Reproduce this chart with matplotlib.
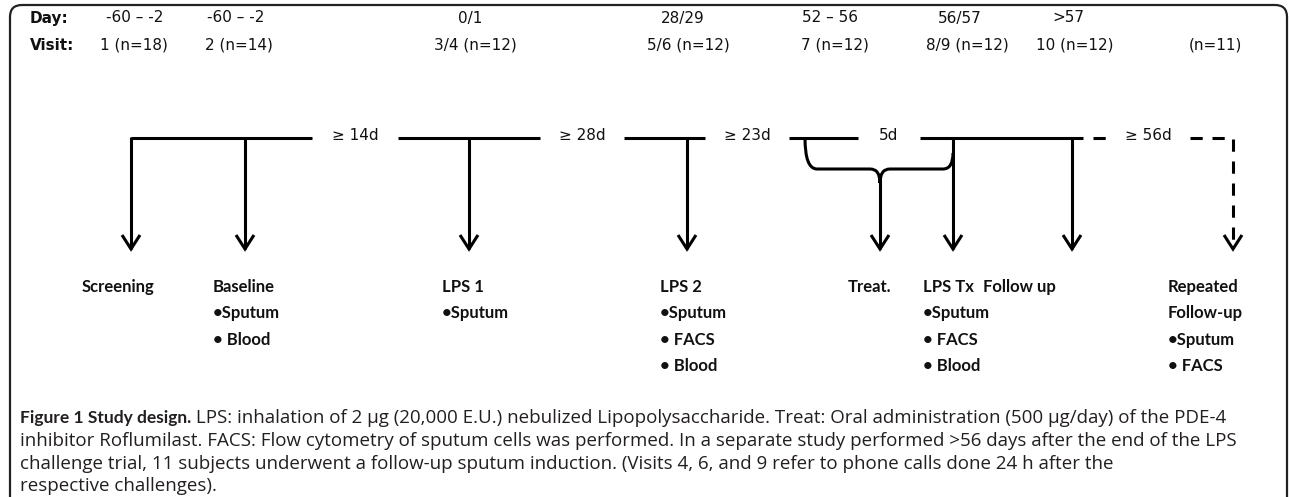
import matplotlib
matplotlib.use("Agg")
import matplotlib.pyplot as plt
from matplotlib.patches import FancyBboxPatch, PathPatch
from matplotlib.path import Path

# header rows
day_x = [135, 236, 470, 683, 830, 960, 1068]
day_labels = ["-60 – -2", "-60 – -2", "0/1", "28/29", "52 – 56", "56/57", ">57"]
visit_x = [134, 239, 475, 688, 835, 967, 1075, 1215]
visit_labels = ["1 (n=18)", "2 (n=14)", "3/4 (n=12)", "5/6 (n=12)", "7 (n=12)",
                "8/9 (n=12)", "10 (n=12)", "(n=11)"]

# timeline
arrow_x = [131, 245, 469, 687, 953, 1072]   # solid arrows dropping from the line
treat_x = 880                                # arrow from the brace tip
repeat_x = 1233                              # dashed arrow
line_y = 138
tip_y = 249
gap_labels = ["≥ 14d", "≥ 28d", "≥ 23d", "5d"]
gap_x = [355, 582, 747, 889]
gap_half = [43, 42, 42, 31]
solid_end = 1083
dash_label = "≥ 56d"
dash_label_x = 1148
brace_left, brace_right, brace_y = 805, 953, 169

# event labels below the arrows
label_x = [82, 213, 442, 660, 848, 923, 983, 1168]
label_rows = [
    ["Screening"],
    ["Baseline", "•Sputum", "• Blood"],
    ["LPS 1", "•Sputum"],
    ["LPS 2", "•Sputum", "• FACS", "• Blood"],
    ["Treat."],
    ["LPS Tx", "•Sputum", "• FACS", "• Blood"],
    ["Follow up"],
    ["Repeated", "Follow-up", "•Sputum", "• FACS"],
]
row_y0, row_dy = 287, 26.3

caption_bold = "Figure 1 Study design."
caption_lines = [
    " LPS: inhalation of 2 µg (20,000 E.U.) nebulized Lipopolysaccharide. Treat: Oral administration (500 µg/day) of the PDE-4",
    "inhibitor Roflumilast. FACS: Flow cytometry of sputum cells was performed. In a separate study performed >56 days after the end of the LPS",
    "challenge trial, 11 subjects underwent a follow-up sputum induction. (Visits 4, 6, and 9 refer to phone calls done 24 h after the",
    "respective challenges).",
]
caption_y = [418, 441, 464, 486]

LW = 2.2
fig = plt.figure(figsize=(12.9, 4.97), dpi=100)
ax = fig.add_axes([0, 0, 1, 1])
ax.set_xlim(0, 1290)
ax.set_ylim(497, 0)
ax.axis("off")

# frame: the bottom edge runs off the picture
box = FancyBboxPatch((10, 5), 1277, 520, boxstyle="round,pad=0,rounding_size=12",
                     fill=False, edgecolor="#222222", linewidth=1.6, clip_on=True)
ax.add_patch(box)

hdr = dict(family="DejaVu Sans", fontsize=11, color="#111111", va="center")
ax.text(30, 18, "Day:", fontweight="bold", ha="left", **hdr)
ax.text(30, 45, "Visit:", fontweight="bold", ha="left", **hdr)
for x, s in zip(day_x, day_labels):
    ax.text(x, 18, s, ha="center", **hdr)
for x, s in zip(visit_x, visit_labels):
    ax.text(x, 45, s, ha="center", **hdr)

# solid part of the timeline, broken where the interval labels sit
starts = [arrow_x[0]] + [g + h for g, h in zip(gap_x, gap_half)]
ends = [g - h for g, h in zip(gap_x, gap_half)] + [solid_end]
for a, b in zip(starts, ends):
    ax.plot([a, b], [line_y, line_y], color="black", lw=LW, solid_capstyle="butt")
for x, s in zip(gap_x, gap_labels):
    ax.text(x, line_y - 2, s, ha="center", va="center", family="DejaVu Sans",
            fontsize=11, color="#111111")


def arrowhead(x, y):
    ax.plot([x - 9, x, x + 9], [y - 14, y, y - 14], color="black", lw=LW,
            solid_joinstyle="miter", solid_capstyle="butt")


for x in arrow_x:
    ax.plot([x, x], [line_y - 1, tip_y], color="black", lw=LW, solid_capstyle="butt")
    arrowhead(x, tip_y)

# brace gathering the treatment days
verts = [(brace_left, line_y), (brace_left, brace_y), (brace_left + 12, brace_y),
         (treat_x - 10, brace_y), (treat_x, brace_y), (treat_x, brace_y + 14),
         (treat_x, brace_y), (treat_x + 10, brace_y),
         (brace_right - 10, brace_y), (brace_right, brace_y), (brace_right, brace_y - 16)]
codes = [Path.MOVETO, Path.CURVE3, Path.CURVE3, Path.LINETO, Path.CURVE3, Path.CURVE3,
         Path.CURVE3, Path.CURVE3, Path.LINETO, Path.CURVE3, Path.CURVE3]
ax.add_patch(PathPatch(Path(verts, codes), fill=False, lw=LW, edgecolor="black"))
ax.plot([treat_x, treat_x], [brace_y + 12, tip_y], color="black", lw=LW,
        solid_capstyle="butt")
arrowhead(treat_x, tip_y)

# dashed follow-up link
dash = (0, (4, 3.2))
ax.plot([solid_end + 10, dash_label_x - 41], [line_y, line_y], color="black", lw=LW,
        linestyle=dash, dash_capstyle="butt")
ax.plot([dash_label_x + 42, repeat_x, repeat_x], [line_y, line_y, tip_y - 3],
        color="black", lw=LW, linestyle=dash, dash_capstyle="butt")
ax.text(dash_label_x, line_y - 2, dash_label, ha="center", va="center",
        family="DejaVu Sans", fontsize=11, color="#111111")
arrowhead(repeat_x, tip_y)

for x, rows in zip(label_x, label_rows):
    for i, s in enumerate(rows):
        ax.text(x, row_y0 + i * row_dy, s, ha="left", va="center", family="Lato",
                fontweight="bold", fontsize=12, color="#111111")

cap = dict(family="Open Sans", fontsize=13.5, color="#231f20", va="center", ha="left")
t = ax.text(20, caption_y[0], caption_bold, family="Lato", fontweight="bold",
            fontsize=12.5, color="#231f20", va="center", ha="left")
fig.canvas.draw()
bb = t.get_window_extent()
x_after = ax.transData.inverted().transform((bb.x1, bb.y0))[0]
ax.text(x_after, caption_y[0], caption_lines[0], **cap)
for y, s in zip(caption_y[1:], caption_lines[1:]):
    ax.text(20, y, s, **cap)

fig.savefig("out.png", dpi=100)
